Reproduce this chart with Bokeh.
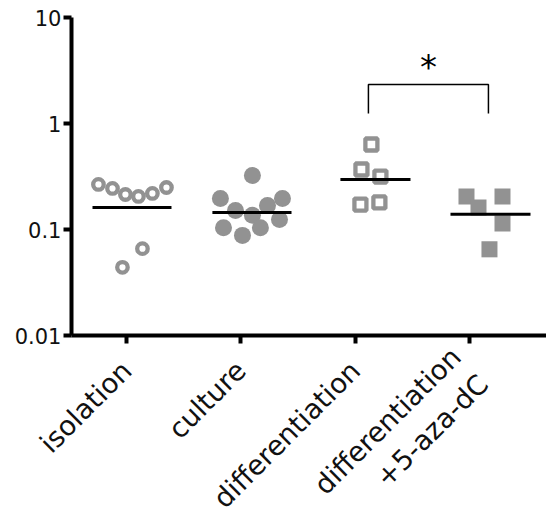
import numpy as np
from bokeh.plotting import figure
from bokeh.models import FixedTicker, CustomJSTickFormatter, Range1d
from bokeh.core.properties import value
from bokeh.embed import file_html
from bokeh.resources import INLINE

# ---- data ----
categories = ["isolation", "culture", "differentiation", "differentiation\n+5-aza-dC"]
isolation = [0.266, 0.244, 0.214, 0.205, 0.219, 0.249, 0.044, 0.066]
isolation_jit = [-0.245, -0.122, -0.009, 0.105, 0.227, 0.350, -0.035, 0.140]
culture = [0.323, 0.196, 0.196, 0.151, 0.168, 0.136, 0.124, 0.104, 0.104, 0.088]
culture_jit = [0.102, -0.178, 0.365, -0.046, 0.234, 0.102, 0.339, -0.151, 0.172, 0.015]
differentiation = [0.634, 0.368, 0.316, 0.172, 0.180]
differentiation_jit = [0.143, 0.056, 0.222, 0.047, 0.213]
aza = [0.205, 0.205, 0.161, 0.114, 0.065]
aza_jit = [-0.025, 0.290, 0.080, 0.290, 0.176]
means = [0.161, 0.145, 0.297, 0.139]
mean_left = [-0.297, -0.248, -0.128, -0.165]
mean_right = [0.394, 0.444, 0.485, 0.535]
y_ticks = [0.01, 0.1, 1, 10]
y_tick_labels = ["0.01", "0.1", "1", "10"]
sig_pair = [3.117, 4.167]
sig_top = 2.33
sig_bottom = 1.24
sig_label = "*"

GRAY = "#929292"
FONT = "DejaVu Sans"

# axes limits (data units); the frame covers the whole canvas and the axes are
# placed at fixed data locations so that no label is clipped
x_axis_min, x_axis_max = 0.519, 4.675
x_left = x_axis_max - 546 / 114.3
y_bottom = 10 ** (-2 - 192 / 106)
y_top = 10 ** (1 + 17 / 106)

p = figure(width=546, height=527, output_backend="svg", toolbar_location=None,
           y_axis_type="log", x_range=Range1d(x_left, x_axis_max), y_range=Range1d(y_bottom, y_top),
           min_border_left=0, min_border_top=0, min_border_bottom=0, min_border_right=0)
p.outline_line_color = None
p.grid.visible = False
p.background_fill_color = "white"

xs = np.arange(1, 5)

# isolation: open circles
p.scatter(1 + np.array(isolation_jit), isolation, marker="circle", size=10.5,
          fill_color="white", line_color=GRAY, line_width=4.3)
# culture: filled circles
p.scatter(2 + np.array(culture_jit), culture, marker="circle", size=17,
          fill_color=GRAY, line_color=None)
# differentiation: open squares
p.scatter(3 + np.array(differentiation_jit), differentiation, marker="square", size=12,
          fill_color="white", line_color=GRAY, line_width=4.3)
# differentiation + 5-aza-dC: filled squares
p.scatter(4 + np.array(aza_jit), aza, marker="square", size=16,
          fill_color=GRAY, line_color=None)

# mean lines
p.segment(x0=xs + np.array(mean_left), x1=xs + np.array(mean_right), y0=means, y1=means,
          line_color="black", line_width=3)

# significance bracket
p.line(x=[sig_pair[0], sig_pair[0], sig_pair[1], sig_pair[1]],
       y=[sig_bottom, sig_top, sig_top, sig_bottom], line_color="black", line_width=1.5)
p.text(x=[(sig_pair[0] + sig_pair[1]) / 2], y=[sig_top], text=[sig_label],
       text_font=value(FONT), text_font_size="34px", text_align="center",
       text_baseline="bottom", text_color="black", y_offset=2)

# axes
for ax in (p.xaxis[0], p.yaxis[0]):
    ax.axis_line_width = 4
    ax.major_tick_line_width = 4
    ax.major_tick_out = 8
    ax.major_tick_in = 0
    ax.minor_tick_line_color = None
    ax.axis_line_color = "black"
    ax.major_tick_line_color = "black"
    ax.major_label_text_color = "#111111"
    ax.major_label_text_font = FONT

p.yaxis.fixed_location = x_axis_min
p.yaxis.ticker = FixedTicker(ticks=y_ticks)
p.yaxis.bounds = (y_ticks[0], y_ticks[-1])
p.yaxis.formatter = CustomJSTickFormatter(args=dict(t=y_ticks, l=y_tick_labels), code="""
    for (let i = 0; i < t.length; i++) { if (Math.abs(Math.log10(tick) - Math.log10(t[i])) < 1e-6) return l[i]; }
    return '';
""")
p.yaxis.major_label_text_font_size = "21px"
p.yaxis.major_label_standoff = 2

p.xaxis.fixed_location = y_ticks[0]
p.xaxis.bounds = (x_axis_min, x_axis_max)
p.xaxis.ticker = FixedTicker(ticks=list(xs))
p.xaxis.formatter = CustomJSTickFormatter(args=dict(c=categories), code="""
    return c[Math.round(tick) - 1];
""")
p.xaxis.major_label_text_font_size = "27.5px"
p.xaxis.major_label_orientation = np.pi / 4
p.xaxis.major_label_standoff = 22

open("out.html", "w").write(file_html(p, INLINE))
